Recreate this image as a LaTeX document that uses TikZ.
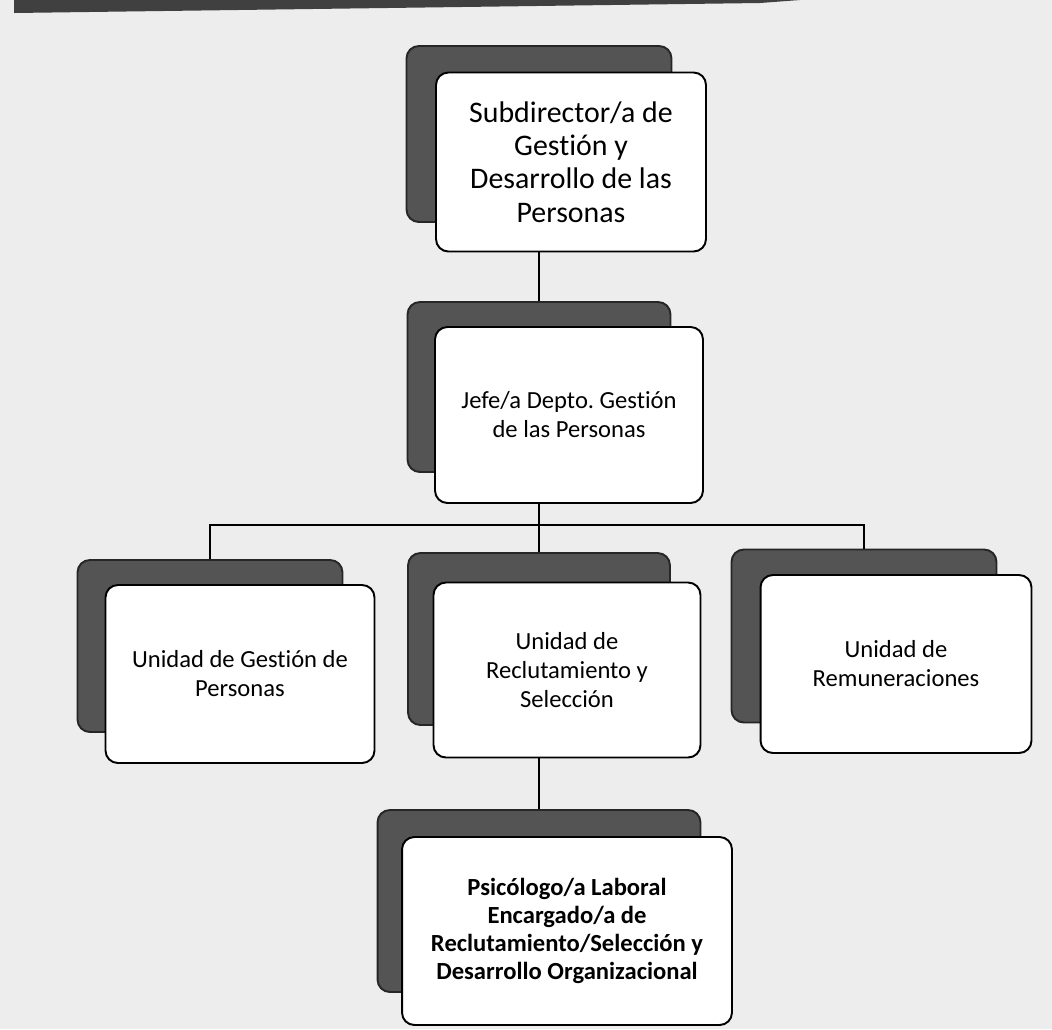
\documentclass[tikz,border=0pt]{standalone}
\usepackage{fontspec}
\setmainfont[Ligatures=NoCommon]{Carlito}
\usepackage{tikz}
\frenchspacing

\begin{document}
\begin{tikzpicture}[x=0.02cm,y=-0.02cm,
                every path/.style={line width=1.1pt},
                fondo/.style={draw=black!85,fill=black!67,rounded corners=7pt,inner sep=0pt},
                caja/.style={draw=black,fill=white,rounded corners=7pt,align=center,inner sep=2pt,
                             font=\fontsize{14}{16.5}\selectfont}]
  \useasboundingbox (0,0) rectangle (1052,1029);
  \fill[black!7] (0,0) rectangle (1052,1029);
  \fill[black!75] (14,0) -- (800,0) -- (760,3) -- (14,13) -- cycle;
  \node[fondo,minimum width=5.3cm,minimum height=3.52cm]  (sa) at (539,134) {};
  \node[fondo,minimum width=5.26cm,minimum height=3.4cm]  (sb) at (539,387) {};
  \node[fondo,minimum width=5.3cm,minimum height=3.44cm]  (sc) at (210,646) {};
  \node[fondo,minimum width=5.24cm,minimum height=3.44cm] (sd) at (539,639) {};
  \node[fondo,minimum width=5.3cm,minimum height=3.46cm]  (se) at (864,636) {};
  \node[fondo,minimum width=6.46cm,minimum height=3.64cm] (sf) at (539,901) {};
  \coordinate (r) at (539,525);
  \draw (sa) -- (sb);
  \draw (sb) -- (sd);
  \draw (sc.north) |- (r) -| (se.north);
  \draw (sd) -- (sf);
  \node[caja,minimum width=5.4cm,minimum height=3.58cm,font=\fontsize{17}{19}\selectfont] (a) at (571,162)
       {Subdirector/a de\\Gestión y\\Desarrollo de las\\Personas};
  \node[caja,minimum width=5.36cm,minimum height=3.52cm] (b) at (569,415) {Jefe/a Depto. Gestión\\de las Personas};
  \node[caja,minimum width=5.38cm,minimum height=3.56cm] (c) at (240,674) {Unidad de Gestión de\\Personas};
  \node[caja,minimum width=5.34cm,minimum height=3.5cm]  (d) at (567,670) {Unidad de\\Reclutamiento y\\Selección};
  \node[caja,minimum width=5.42cm,minimum height=3.56cm] (e) at (896,664) {Unidad de\\Remuneraciones};
  \node[caja,minimum width=6.6cm,minimum height=3.76cm,font=\bfseries\fontsize{14}{16}\selectfont] (f) at (567,931)
       {Psicólogo/a Laboral\\Encargado/a de\\Reclutamiento/Selección y\\Desarrollo Organizacional};
\end{tikzpicture}
\end{document}
